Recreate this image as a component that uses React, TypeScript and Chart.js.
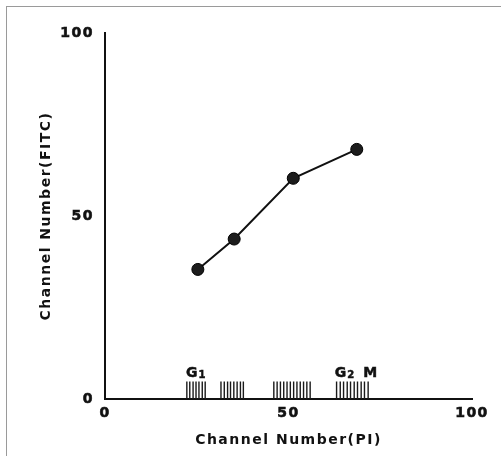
import React, { useEffect, useRef } from 'react';
import { Chart, registerables } from 'chart.js';

Chart.register(...registerables);

// Measured points
const pointX = [25.3, 35.2, 51.3, 68.6];
const pointY = [35.4, 43.7, 60.3, 68.2];

// Axis ticks
const axisTicks = [0, 50, 100];

// Hatch marks along the x axis (cell cycle phases)
const hatchG1 = [22.3, 23.1, 24.0, 24.8, 25.6, 26.5, 27.3];
const hatchS1 = [31.6, 32.5, 33.4, 34.2, 35.1, 36.0, 36.9, 37.7];
const hatchS2 = [46.0, 46.9, 47.8, 48.7, 49.6, 50.5, 51.4, 52.3, 53.2, 54.1, 55.0, 55.9];
const hatchG2M = [63.1, 64.1, 65.0, 66.0, 66.9, 67.9, 68.8, 69.8, 70.7, 71.7];
const hatchHeight = 4.8;

// Phase labels: [main, subscript, rest]
const phaseLabels = [
  ['G', '1', ''],
  ['G', '2', 'M'],
];
const phaseLabelX = [22.1, 62.6];
const phaseLabelY = 6.0;

const xTitle = 'Channel Number(PI)';
const yTitle = 'Channel Number(FITC)';

const FAMILY = '"DejaVu Sans", "Liberation Sans", Arial, sans-serif';
const INK = '#111';

const spacingPlugin = {
  id: 'spacing',
  beforeDraw(chart: any) {
    (chart.ctx as any).letterSpacing = '1.5px';
  },
  afterDraw(chart: any) {
    (chart.ctx as any).letterSpacing = '0px';
  },
};

const phasePlugin = {
  id: 'phaseLabels',
  afterDatasetsDraw(chart: any) {
    const { ctx, scales } = chart;
    const xs = scales.x;
    const ys = scales.y;
    ctx.save();
    (ctx as any).letterSpacing = '0px';
    ctx.fillStyle = INK;
    ctx.strokeStyle = INK;
    ctx.lineWidth = 0.5;
    ctx.textAlign = 'left';
    ctx.textBaseline = 'alphabetic';
    const put = (t: string, x: number, y: number) => {
      ctx.fillText(t, x, y);
      ctx.strokeText(t, x, y);
    };
    phaseLabels.forEach((parts, i) => {
      let px = xs.getPixelForValue(phaseLabelX[i]);
      const py = ys.getPixelForValue(phaseLabelY);
      ctx.font = `bold 14px ${FAMILY}`;
      put(parts[0], px, py);
      px += ctx.measureText(parts[0]).width + 1;
      ctx.font = `bold 10px ${FAMILY}`;
      put(parts[1], px, py + 1);
      px += ctx.measureText(parts[1]).width;
      if (parts[2]) {
        px += 9;
        ctx.font = `bold 14px ${FAMILY}`;
        put(parts[2], px, py);
      }
    });
    ctx.restore();
  },
};

export default function App() {
  const ref = useRef<HTMLCanvasElement | null>(null);

  useEffect(() => {
    if (!ref.current) return;
    const hatchData: any[] = [];
    [hatchG1, hatchS1, hatchS2, hatchG2M].forEach((group) => {
      group.forEach((x) => {
        hatchData.push({ x, y: 0 }, { x, y: hatchHeight }, { x, y: null });
      });
    });
    const tickFont = { family: FAMILY, size: 14, weight: 'bold' as const };
    const chart = new Chart(ref.current, {
      type: 'scatter',
      data: {
        datasets: [
          {
            data: pointX.map((x, i) => ({ x, y: pointY[i] })),
            showLine: true,
            borderColor: INK,
            borderWidth: 2,
            pointRadius: 6,
            pointBackgroundColor: '#1c1c1c',
            pointBorderColor: '#000',
            pointBorderWidth: 1,
            order: 0,
          },
          {
            data: hatchData,
            showLine: true,
            spanGaps: false,
            borderColor: '#1a1a1a',
            borderWidth: 1.4,
            pointRadius: 0,
            order: 1,
          },
        ],
      },
      options: {
        responsive: false,
        animation: false,
        devicePixelRatio: 1,
        events: [],
        layout: { padding: { left: 0, right: 29, top: 33, bottom: 0 } },
        plugins: { legend: { display: false }, tooltip: { enabled: false } },
        scales: {
          x: {
            type: 'linear',
            min: 0,
            max: 100,
            afterBuildTicks: (s: any) => {
              s.ticks = axisTicks.map((v) => ({ value: v }));
            },
            ticks: {
              color: INK,
              font: tickFont,
              padding: 6,
              maxRotation: 0,
              autoSkip: false,
              textStrokeColor: INK,
              textStrokeWidth: 0.6,
            },
            grid: { display: false, drawTicks: false },
            border: { display: true, color: INK, width: 2 },
            title: {
              display: true,
              text: xTitle,
              color: INK,
              font: tickFont,
              padding: { top: 0, bottom: 7 },
            },
            afterFit: (s: any) => {
              s.height = 57;
              s.paddingLeft = 0;
              s.paddingRight = 0;
            },
          },
          y: {
            type: 'linear',
            min: 0,
            max: 100,
            afterBuildTicks: (s: any) => {
              s.ticks = axisTicks.map((v) => ({ value: v }));
            },
            ticks: {
              color: INK,
              font: tickFont,
              padding: 11,
              autoSkip: false,
              textStrokeColor: INK,
              textStrokeWidth: 0.6,
            },
            grid: { display: false, drawTicks: false },
            border: { display: true, color: INK, width: 2 },
            title: {
              display: true,
              text: yTitle,
              color: INK,
              font: tickFont,
              padding: { top: 38, bottom: 0 },
            },
            afterFit: (s: any) => {
              s.width = 105;
              s.paddingTop = 0;
              s.paddingBottom = 0;
            },
          },
        },
      } as any,
      plugins: [spacingPlugin, phasePlugin],
    });
    return () => chart.destroy();
  }, []);

  return (
    <div style={{ position: 'fixed', left: 0, top: 0, width: 501, height: 456, background: '#fff' }}>
      <div
        style={{
          position: 'absolute',
          left: 6,
          top: 6,
          right: 0,
          bottom: 0,
          borderTop: '1px solid #9a9a9a',
          borderLeft: '1px solid #9a9a9a',
        }}
      />
      <canvas
        ref={ref}
        width={501}
        height={456}
        style={{ position: 'absolute', left: 0, top: 0, width: 501, height: 456 }}
      />
    </div>
  );
}
